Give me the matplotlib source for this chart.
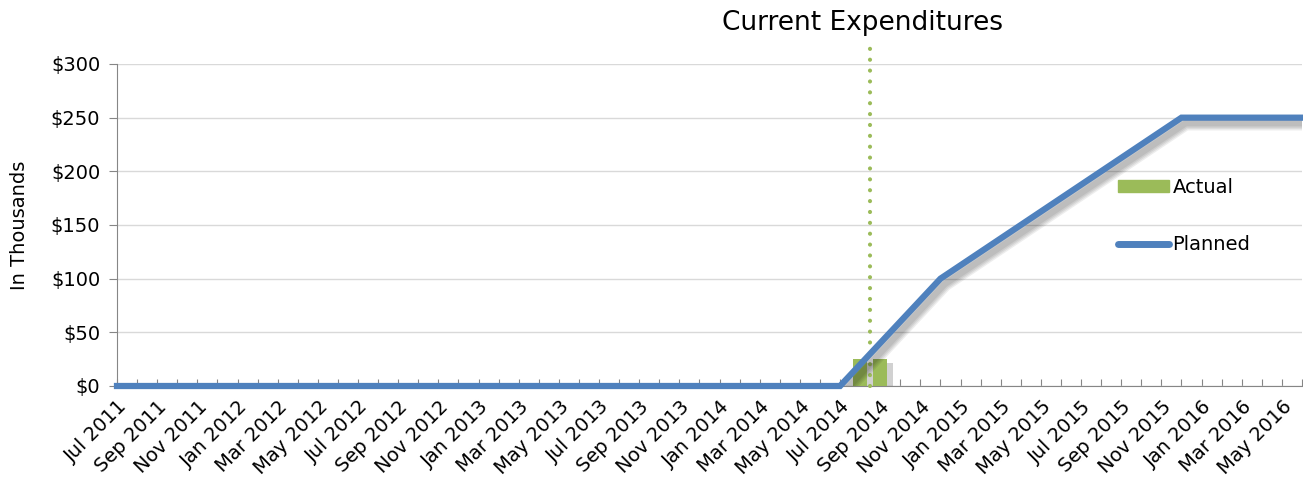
"""Current expenditures: planned vs actual (in thousands)."""
import matplotlib
matplotlib.use("Agg")
import matplotlib.pyplot as plt
import matplotlib.patheffects as pe
from matplotlib.lines import Line2D
from matplotlib.patches import Patch
import numpy as np

MONTHS = ["Jan", "Feb", "Mar", "Apr", "May", "Jun",
          "Jul", "Aug", "Sep", "Oct", "Nov", "Dec"]
# Jul 2011 .. Jun 2016, one category per month
categories = [f"{MONTHS[(6 + i) % 12]} {2011 + (6 + i) // 12}" for i in range(60)]

# planned spend (thousands): flat at 0 through Jul 2014, ramp, flat at 250 from Dec 2015
planned = ([0.0] * 37
           + [20, 40, 60, 80, 100]
           + [112.5, 125, 137.5, 150, 162.5, 175, 187.5, 200, 212.5, 225, 237.5, 250]
           + [250.0] * 6)
actual_months = ["Aug 2014", "Sep 2014"]
actual_values = [25, 25]
current_month = 37.5  # between Aug and Sep 2014

BLUE = "#4F81BD"
GREEN = "#9BBB59"

fig = plt.figure(figsize=(13.03, 4.79), dpi=100)
ax = fig.add_axes([117 / 1303, 93 / 479, 1185 / 1303, 322 / 479])

x = np.arange(len(categories))
ax.set_xlim(0, len(categories) - 1)
ax.set_ylim(0, 300)

ax.grid(axis="y", color="#D9D9D9", lw=1.0)
ax.set_axisbelow(True)

# soft, blurred-looking shadows built from a few faint strokes
line_shadow = [pe.SimpleLineShadow(offset=(3, -4), alpha=0.07, shadow_color="#000000",
                                   linewidth=4.5 + w) for w in (6, 4, 2, 0)]
bar_shadow = [pe.SimplePatchShadow(offset=(4, -3), alpha=0.18, shadow_rgbFace="#000000")]

bx = [categories.index(m) for m in actual_months]
ax.bar(bx, actual_values, width=0.72, color=GREEN, zorder=3,
       path_effects=bar_shadow + [pe.Normal()])

ax.axvline(current_month, color=GREEN, lw=3, ls=(0, (0.01, 2.6)),
           dash_capstyle="round", ymax=1.06, clip_on=False, zorder=4)

# shadow clipped to the plot area, line itself allowed to overlap the axis
ax.plot(x, planned, color=BLUE, lw=4.5, zorder=4.5, clip_on=True,
        solid_joinstyle="miter", path_effects=line_shadow)
ax.plot(x, planned, color=BLUE, lw=4.5, zorder=5, clip_on=False,
        solid_joinstyle="miter")

ax.set_yticks(np.arange(0, 301, 50))
ax.set_yticklabels([f"${v}" for v in range(0, 301, 50)])
ax.set_xticks(x)
ax.set_xticklabels([c if i % 2 == 0 else "" for i, c in enumerate(categories)],
                   rotation=45, ha="right", rotation_mode="anchor")
ax.tick_params(axis="x", direction="in", length=5, color="#868686", labelsize=14, pad=8)
ax.tick_params(axis="y", direction="out", length=6, color="#868686", labelsize=14, pad=6)

for side in ("top", "right"):
    ax.spines[side].set_visible(False)
for side in ("left", "bottom"):
    ax.spines[side].set_color("#868686")

ax.set_ylabel("In Thousands", fontsize=14)
ax.yaxis.set_label_coords(-88 / 1185, 0.5)

fig.text(862 / 1303, 1 - 23 / 479, "Current Expenditures",
         ha="center", va="center", fontsize=19)

handles = [Patch(color=GREEN, label="Actual"),
           Line2D([], [], color=BLUE, lw=5, solid_capstyle="round", label="Planned")]
ax.legend(handles=handles, loc="upper left", bbox_to_anchor=(0.83, 0.7),
          frameon=False, fontsize=14, handlelength=2.6, handleheight=0.6,
          handletextpad=0.2, labelspacing=1.95)

fig.savefig("out.png", dpi=100)
